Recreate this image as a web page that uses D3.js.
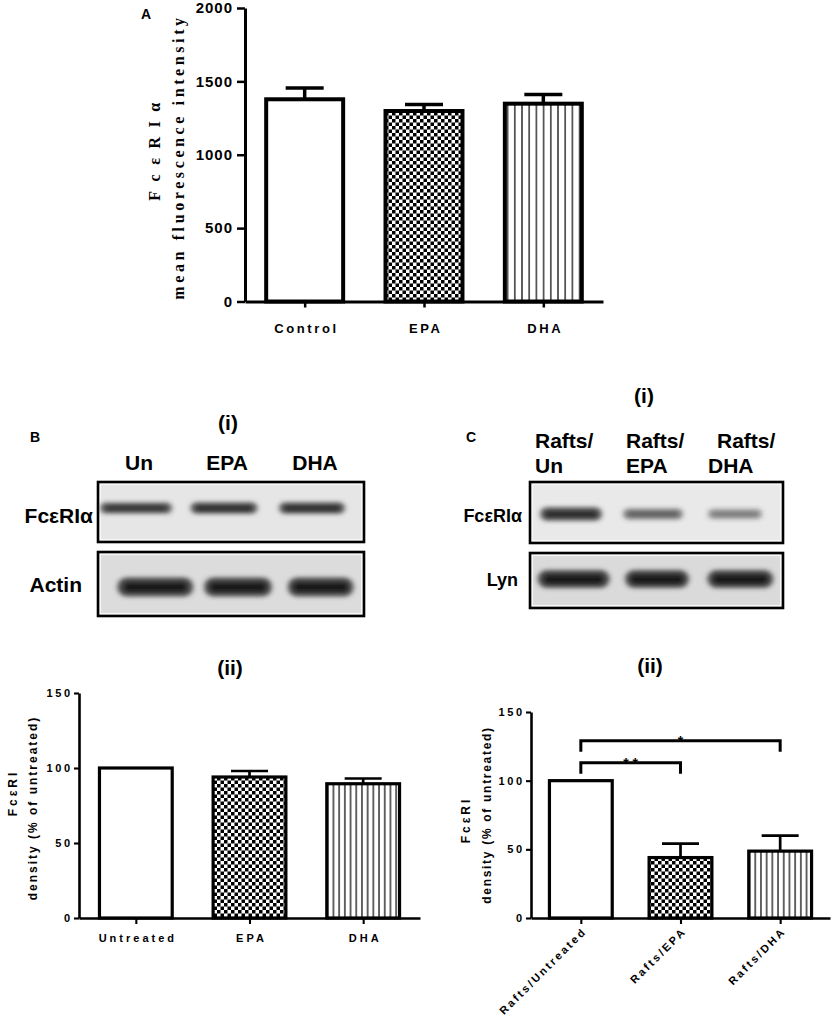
<!DOCTYPE html>
<html>
<head>
<meta charset="utf-8">
<script src="https://cdn.jsdelivr.net/npm/d3@7"></script>
<style>
  body { margin: 0; background: #fff; }
  svg { display: block; }
</style>
</head>
<body>
<svg id="fig" width="832" height="1019"></svg>
<script>
// Panel A: flow cytometry
var groupsA = ["Control", "EPA", "DHA"];
var meansA = [1378, 1298, 1348];
var semA = [77, 44, 62];
var ticksA = [0, 500, 1000, 1500, 2000];

// Panel B(ii): whole cell densitometry
var groupsB = ["Untreated", "EPA", "DHA"];
var meansB = [100, 94, 89.5];
var semB = [0, 4, 3.5];

// Panel C(ii): raft densitometry
var groupsC = ["Rafts/Untreated", "Rafts/EPA", "Rafts/DHA"];
var meansC = [100, 44, 48.7];
var semC = [0, 10.2, 11.3];
var ticksPct = [0, 50, 100, 150];

// significance brackets on C(ii), level in % units
var sigFrom = [0, 0];
var sigTo = [1, 2];
var sigLevel = [113, 129];
var sigLabel = ["* *", "*"];

// blots
var lanesB = ["Un", "EPA", "DHA"];
var lanesC = ["Un", "EPA", "DHA"];
var bandB_fc = [0.85, 0.9, 0.9];
var bandB_actin = [1, 1, 1];
var bandC_fc = [0.9, 0.55, 0.4];
var bandC_lyn = [1, 1, 1];

var svg = d3.select("#fig");
var SANS = "'Liberation Sans', Arial, sans-serif";
var SERIF = "'Liberation Serif', 'Times New Roman', serif";

// patterns
var defs = svg.append("defs");
var chk = defs.append("pattern").attr("id", "checker")
  .attr("patternUnits", "userSpaceOnUse").attr("width", 7).attr("height", 7);
chk.append("rect").attr("width", 7).attr("height", 7).attr("fill", "#fff");
chk.append("rect").attr("width", 3.5).attr("height", 3.5).attr("fill", "#000");
chk.append("rect").attr("x", 3.5).attr("y", 3.5).attr("width", 3.5).attr("height", 3.5).attr("fill", "#000");

function stripePattern(id, w) {
  var p = defs.append("pattern").attr("id", id)
    .attr("patternUnits", "userSpaceOnUse").attr("width", w).attr("height", 10);
  p.append("rect").attr("width", w).attr("height", 10).attr("fill", "#fff");
  p.append("line").attr("x1", w / 2).attr("x2", w / 2).attr("y1", 0).attr("y2", 10)
    .attr("stroke", "#000").attr("stroke-width", 1.2);
}
stripePattern("stripesA", 7.2);
stripePattern("stripesB", 5.7);

var blur = defs.append("filter").attr("id", "blur")
  .attr("x", "-20%").attr("y", "-100%").attr("width", "140%").attr("height", "300%");
blur.append("feGaussianBlur").attr("stdDeviation", "2.6 2");

// generic GraphPad-style bar chart
function barChart(cfg) {
  var g = svg.append("g");
  var x = d3.scalePoint().domain(cfg.groups).range([cfg.left, cfg.right]).padding(0.5);
  var y = d3.scaleLinear().domain([0, cfg.max]).range([cfg.bottom, cfg.top]);
  var bw = x.step() * cfg.barFrac;

  // bars
  g.selectAll("rect.bar")
    .data(cfg.means)
    .enter()
    .append("rect")
    .attr("class", "bar")
    .attr("x", function (d, i) { return x(cfg.groups[i]) - bw / 2; })
    .attr("y", function (d) { return y(d); })
    .attr("width", bw)
    .attr("height", function (d) { return y(0) - y(d); })
    .attr("fill", function (d, i) { return cfg.fills[i]; })
    .attr("stroke", "#000")
    .attr("stroke-width", cfg.barStroke);

  // error bars (upper only)
  cfg.means.forEach(function (m, i) {
    var e = cfg.sem[i];
    if (!e) return;
    var cx = x(cfg.groups[i]);
    g.append("line").attr("x1", cx).attr("x2", cx)
      .attr("y1", y(m)).attr("y2", y(m + e))
      .attr("stroke", "#000").attr("stroke-width", cfg.barStroke - 0.5);
    g.append("line").attr("x1", cx - cfg.capW / 2).attr("x2", cx + cfg.capW / 2)
      .attr("y1", y(m + e)).attr("y2", y(m + e))
      .attr("stroke", "#000").attr("stroke-width", cfg.barStroke - 0.5);
  });

  // y axis
  var ya = g.append("g")
    .attr("transform", "translate(" + cfg.left + ",0)")
    .call(d3.axisLeft(y).tickValues(cfg.ticks).tickSize(cfg.tickLen).tickSizeOuter(0).tickFormat(d3.format("d")));
  ya.select(".domain").attr("stroke-width", cfg.axisStroke);
  ya.selectAll(".tick line").attr("stroke-width", cfg.axisStroke - 0.5);
  ya.selectAll(".tick text")
    .attr("x", -cfg.tickLen - cfg.labelGap + cfg.yLs)
    .style("font-family", SANS).style("font-weight", "bold")
    .style("font-size", cfg.yFont + "px").style("letter-spacing", cfg.yLs + "px");

  // x axis
  var xa = g.append("g")
    .attr("transform", "translate(0," + cfg.bottom + ")")
    .call(d3.axisBottom(x).tickSize(6).tickSizeOuter(0));
  xa.select(".domain").attr("stroke-width", cfg.axisStroke);
  xa.selectAll(".tick line").attr("stroke-width", cfg.axisStroke - 0.5);
  var xt = xa.selectAll(".tick text")
    .style("font-family", SANS).style("font-weight", "bold")
    .style("font-size", cfg.xFont + "px").style("letter-spacing", cfg.xLs + "px");
  if (cfg.rotate) {
    xt.attr("text-anchor", "end").attr("x", 0).attr("y", 0).attr("dy", 0)
      .attr("transform", "translate(6,14) rotate(-45)");
  } else {
    xt.attr("y", cfg.xLabelY).attr("dy", 0).attr("dx", cfg.xLs / 2);
  }

  // y titles
  cfg.titles.forEach(function (t) {
    g.append("text")
      .attr("transform", "translate(" + t.x + "," + t.y + ") rotate(-90)")
      .attr("text-anchor", "middle")
      .style("font-family", t.family).style("font-weight", "bold")
      .style("font-size", t.size + "px").style("letter-spacing", t.ls + "px")
      .text(t.text);
  });
  return { g: g, x: x, y: y };
}

// ---------- Panel A ----------
barChart({
  groups: groupsA, means: meansA, sem: semA, ticks: ticksA, max: 2000,
  left: 245, right: 603, top: 8, bottom: 301.5,
  barFrac: 0.645, barStroke: 4, capW: 38, axisStroke: 3, tickLen: 8, labelGap: 5,
  fills: ["#fff", "url(#checker)", "url(#stripesA)"],
  yFont: 15, yLs: 1, xFont: 13, xLs: 2.6, xLabelY: 31,
  titles: [
    { text: "FcεRIα", x: 160, y: 147, size: 16, ls: 9.5, family: SERIF },
    { text: "mean fluorescence intensity", x: 184, y: 157, size: 16, ls: 3.6, family: SERIF }
  ]
});
svg.append("text").attr("x", 141).attr("y", 19)
  .style("font-family", SANS).style("font-weight", "bold").style("font-size", "14px").text("A");

// ---------- Blots ----------
function blot(box, lanes, intens, cfg) {
  var g = svg.append("g");
  g.append("rect").attr("x", box[0]).attr("y", box[1])
    .attr("width", box[2] - box[0]).attr("height", box[3] - box[1])
    .attr("fill", cfg.bg).attr("stroke", "#000").attr("stroke-width", 2.6);
  g.append("rect").attr("x", box[0] + 2.5).attr("y", box[1] + 2.5)
    .attr("width", box[2] - box[0] - 5).attr("height", box[3] - box[1] - 5)
    .attr("fill", "none").attr("stroke", "#f6f6f6").attr("stroke-width", 1.2);
  var lx = d3.scalePoint().domain(lanes).range(cfg.range).padding(0.5);
  var bands = g.selectAll("g.band")
    .data(intens)
    .enter()
    .append("g")
    .attr("class", "band")
    .attr("filter", "url(#blur)");
  // soft halo + darker core
  bands.append("rect")
    .attr("x", function (d, i) { return lx(lanes[i]) - cfg.w[i] / 2; })
    .attr("y", function (d) { return cfg.cy - cfg.h * (0.5 + 0.5 * d) / 2; })
    .attr("width", function (d, i) { return cfg.w[i]; })
    .attr("height", function (d) { return cfg.h * (0.5 + 0.5 * d); })
    .attr("rx", function (d) { return cfg.h * (0.5 + 0.5 * d) / 2; })
    .attr("fill", "#333")
    .attr("fill-opacity", function (d) { return 0.2 + 0.65 * d; });
  bands.append("rect")
    .attr("x", function (d, i) { return lx(lanes[i]) - cfg.w[i] * 0.42; })
    .attr("y", function (d) { return cfg.cy - cfg.h * 0.25 * d; })
    .attr("width", function (d, i) { return cfg.w[i] * 0.84; })
    .attr("height", function (d) { return cfg.h * 0.5 * d + 0.5; })
    .attr("rx", function (d) { return cfg.h * 0.25; })
    .attr("fill", "#000")
    .attr("fill-opacity", function (d) { return 0.6 * d; });
  return lx;
}

function label(x, y, txt, size, anchor) {
  svg.append("text").attr("x", x).attr("y", y).attr("text-anchor", anchor || "start")
    .style("font-family", SANS).style("font-weight", "bold").style("font-size", size + "px")
    .text(txt);
}

// Panel B(i)
var lxB = blot([98, 482, 364, 542], lanesB, bandB_fc,
  { bg: "#e6e6e6", range: [92, 356], w: [72, 67, 66], cy: 508, h: 12 });
blot([98, 552, 364, 616], lanesB, bandB_actin,
  { bg: "#dcdcdc", range: [114, 362], w: [76, 68, 66], cy: 587, h: 19 });
label(30, 442, "B", 14);
label(228, 430, "(i)", 21, "middle");
lanesB.forEach(function (l) { label(lxB(l) + 3, 470, l, 21, "middle"); });
label(93, 523, "FcεRIα", 21, "end");
label(82, 592, "Actin", 21, "end");

// Panel C(i)
blot([530, 482, 783, 543], lanesC, bandC_fc,
  { bg: "#e9e9e9", range: [530, 776], w: [62, 60, 54], cy: 514, h: 14 });
blot([530, 553, 783, 608], lanesC, bandC_lyn,
  { bg: "#dadada", range: [532, 782], w: [72, 64, 66], cy: 579, h: 18 });
var lxCl = d3.scalePoint().domain(lanesC).range([519.5, 792.5]).padding(0.5);
label(466, 442, "C", 14);
label(644, 403, "(i)", 21, "middle");
lanesC.forEach(function (l) {
  label(lxCl(l) - 30, 448, "Rafts/", 21);
  label(lxCl(l) - 30 - (l === "DHA" ? 9 : 0), 473, l, 21);
});
label(522, 522, "FcεRIα", 18, "end");
label(518, 586, "Lyn", 18, "end");

// ---------- Panel B(ii) ----------
label(230, 675, "(ii)", 21, "middle");
barChart({
  groups: groupsB, means: meansB, sem: semB, ticks: ticksPct, max: 150,
  left: 79, right: 420, top: 693, bottom: 918,
  barFrac: 0.64, barStroke: 3.2, capW: 37, axisStroke: 2.6, tickLen: 5, labelGap: 4,
  fills: ["#fff", "url(#checker)", "url(#stripesB)"],
  yFont: 11, yLs: 2.6, xFont: 11, xLs: 3, xLabelY: 24,
  titles: [
    { text: "FcεRI", x: 17, y: 793, size: 12, ls: 3, family: SANS },
    { text: "density (% of untreated)", x: 37, y: 808, size: 12, ls: 2, family: SANS }
  ]
});

// ---------- Panel C(ii) ----------
label(650, 673, "(ii)", 21, "middle");
var cC = barChart({
  groups: groupsC, means: meansC, sem: semC, ticks: ticksPct, max: 150,
  left: 531, right: 830, top: 712, bottom: 918,
  barFrac: 0.63, barStroke: 3.2, capW: 37, axisStroke: 2.6, tickLen: 5, labelGap: 4,
  fills: ["#fff", "url(#checker)", "url(#stripesB)"],
  yFont: 11, yLs: 2.6, xFont: 11, xLs: 2.4, rotate: true,
  titles: [
    { text: "FcεRI", x: 470, y: 820, size: 12, ls: 3, family: SANS },
    { text: "density (% of untreated)", x: 491, y: 815, size: 12, ls: 1.7, family: SANS }
  ]
});

// significance brackets
sigLevel.forEach(function (lv, i) {
  var x1 = cC.x(groupsC[sigFrom[i]]), x2 = cC.x(groupsC[sigTo[i]]);
  var yy = cC.y(lv);
  cC.g.append("path")
    .attr("d", "M" + x1 + "," + (yy + 11) + "V" + yy + "H" + x2 + "V" + (yy + 11))
    .attr("fill", "none").attr("stroke", "#000").attr("stroke-width", 3);
  cC.g.append("text")
    .attr("x", (x1 + x2) / 2).attr("y", yy + 5)
    .attr("text-anchor", "middle")
    .style("font-family", SANS).style("font-weight", "bold").style("font-size", "14px")
    .text(sigLabel[i]);
});
</script>
</body>
</html>
